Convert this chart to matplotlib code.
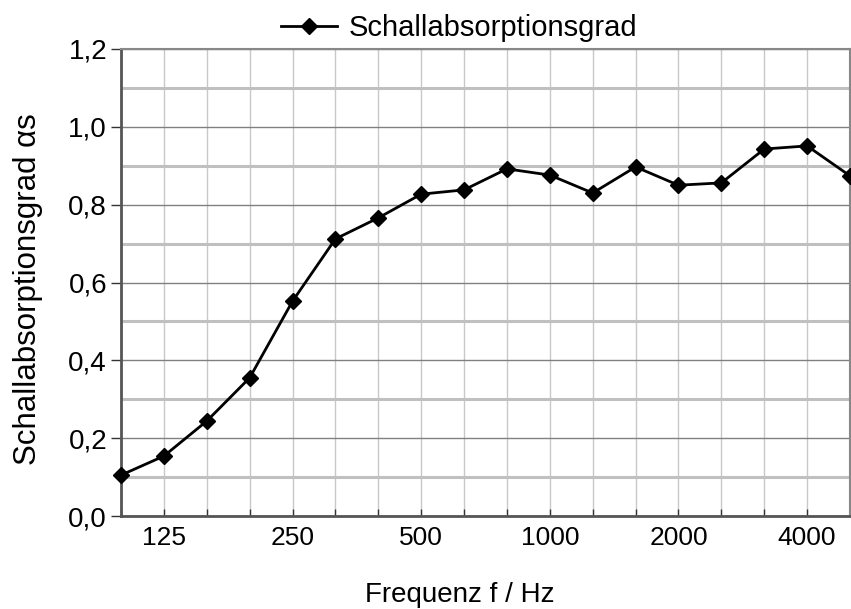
import matplotlib
matplotlib.use("Agg")
from matplotlib import pyplot as plt
import numpy as np

# Terzband-Mittenfrequenzen und gemessene Werte
freqs = ["100", "125", "160", "200", "250", "315", "400", "500", "630",
         "800", "1000", "1250", "1600", "2000", "2500", "3150", "4000", "5000"]
alpha = [0.105, 0.154, 0.244, 0.355, 0.552, 0.712, 0.766, 0.827, 0.838,
         0.892, 0.876, 0.830, 0.897, 0.850, 0.856, 0.943, 0.951, 0.874]
shown_labels = ["125", "250", "500", "1000", "2000", "4000"]
y_ticks = [0.0, 0.2, 0.4, 0.6, 0.8, 1.0, 1.2]
y_ticklabels = ["0,0", "0,2", "0,4", "0,6", "0,8", "1,0", "1,2"]

plt.rcParams["font.family"] = ["Liberation Sans", "DejaVu Sans"]

fig = plt.figure(figsize=(8.51, 6.09), dpi=100)
ax = fig.add_axes([121/851, 93/609, 729/851, 467/609])

x = np.arange(len(freqs))
ax.plot(x, alpha, color="black", linewidth=2, marker="D", markersize=8.5,
        label="Schallabsorptionsgrad", clip_on=False, zorder=5)

#Achsen
ax.set_xlim(0, len(freqs) - 1)
ax.set_ylim(0, 1.2)
ax.set_xticks(x)
ax.set_xticklabels([f if f in shown_labels else "" for f in freqs], fontsize=19)
ax.set_yticks(y_ticks)
ax.set_yticklabels(y_ticklabels, fontsize=20)
ax.set_yticks(np.arange(0.1, 1.2, 0.2), minor=True)

ax.tick_params(axis="x", direction="in", length=5, width=1, color="#333333", pad=7)
ax.tick_params(axis="y", direction="out", length=7, width=1, color="#333333", pad=3)
ax.tick_params(axis="y", which="minor", length=0)

#Gitter
ax.grid(True, axis="x", color="#c8c8c8", linewidth=1)
ax.grid(True, axis="y", which="major", color="#808080", linewidth=1)
ax.grid(True, axis="y", which="minor", color="#c0c0c0", linewidth=2.2)
ax.set_axisbelow(True)

for side in ["left", "bottom"]:
    ax.spines[side].set_color("#555555")
    ax.spines[side].set_linewidth(2)
for side in ["top", "right"]:
    ax.spines[side].set_color("#888888")
    ax.spines[side].set_linewidth(1.5)

ax.set_xlabel("Frequenz f / Hz", fontsize=20, labelpad=23)
ax.xaxis.label.set_x(0.465)
ax.set_ylabel("Schallabsorptionsgrad αs", fontsize=22.5, labelpad=18)
ax.yaxis.label.set_y(0.486)

ax.legend(loc="lower center", bbox_to_anchor=(0.464, 0.99), frameon=False,
          fontsize=21, handlelength=1.9, handletextpad=0.4, borderaxespad=0.0)

fig.savefig("out.png", dpi=100)
